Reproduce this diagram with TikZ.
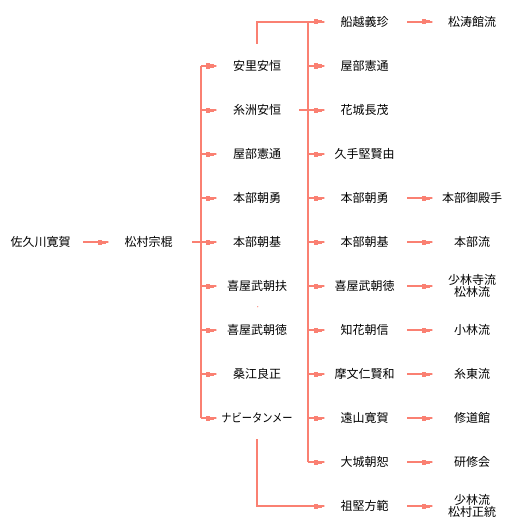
\documentclass[tikz,border=0pt]{standalone}
\usepackage{fontspec}
\setmainfont{Noto Sans CJK JP}
\usetikzlibrary{arrows.meta}
\definecolor{ln}{RGB}{250,128,114}
\tikzset{
  wire/.style={draw=ln, line width=1.2pt},
  conn/.style={wire, -{Rectangle[length=4pt,width=5pt,sep=0pt]Rectangle[length=4pt,width=3pt,sep=0pt]Rectangle[length=3pt,width=1.2pt,sep=0pt]}},
  lbl/.style={inner sep=0pt, font=\fontsize{12}{12}\selectfont, align=center, text=black}
}
\begin{document}
\begin{tikzpicture}[x=1pt,y=-1pt]
\useasboundingbox (0,0) rectangle (515,527);
% column 0 and 1
\node[lbl] (n0) at (40.5,242) {佐久川寛賀};
\node[lbl] (n1) at (148.5,242) {松村宗棍};
\coordinate (n0o) at (83,242);
\coordinate (n1i) at (109,242);
\coordinate (n1o) at (192,242);
\draw[conn] (n0o) -- (n1i);
% trunk 1
\coordinate (t1top) at (201,66);
\coordinate (t1bot) at (201,418);
\coordinate (t1mid) at (201,242);
\draw[wire] (t1top) -- (t1bot);
\draw[wire] (n1o) -- (t1mid);
% column 2
\foreach \t [count=\i] in {安里安恒,糸洲安恒,屋部憲通,本部朝勇,本部朝基,喜屋武朝扶,喜屋武朝徳,桑江良正,{\scalebox{0.85}[1]{ナビータンメー}}}{
  \node[lbl] (a\i) at (257,{22+44*\i}) {\t};
  \coordinate (p\i) at (201,{22+44*\i});
  \coordinate (q\i) at (217,{22+44*\i});
  \draw[conn] (p\i) -- (q\i);
}
% trunk 2
\coordinate (t2top) at (308,22);
\coordinate (t2bot) at (308,462);
\draw[wire] (t2top) -- (t2bot);
\coordinate (a2o) at (299,110);
\coordinate (a2j) at (308,110);
\draw[wire] (a2o) -- (a2j);
% top and bottom links
\coordinate (a1o) at (257,44);
\coordinate (b1i) at (325,22);
\draw[conn] (a1o) |- (b1i);
\coordinate (a9o) at (257,439);
\coordinate (b12i) at (325,506);
\draw[conn] (a9o) |- (b12i);
% column 3
\foreach \t [count=\i] in {船越義珍,屋部憲通,花城長茂,久手堅賢由,本部朝勇,本部朝基,喜屋武朝徳,知花朝信,摩文仁賢和,遠山寛賀,大城朝恕,祖堅方範}{
  \node[lbl] (b\i) at (364.5,{22+44*(\i-1)}) {\t};
}
\foreach \i in {2,...,11}{
  \coordinate (r\i) at (308,{22+44*(\i-1)});
  \coordinate (s\i) at (325,{22+44*(\i-1)});
  \draw[conn] (r\i) -- (s\i);
}
% column 4
\foreach \i/\t in {1/松涛館流,5/本部御殿手,6/本部流,7/{少林寺流\\松林流},8/小林流,9/糸東流,10/修道館,11/研修会,12/{少林流\\松村正統}}{
  \node[lbl] (c\i) at (472,{22+44*(\i-1)}) {\t};
  \coordinate (u\i) at (407,{22+44*(\i-1)});
  \coordinate (v\i) at (433,{22+44*(\i-1)});
  \draw[conn] (u\i) -- (v\i);
}
% stray dot
\fill[ln] (257.7,306.7) circle (0.6pt);
\end{tikzpicture}
\end{document}
